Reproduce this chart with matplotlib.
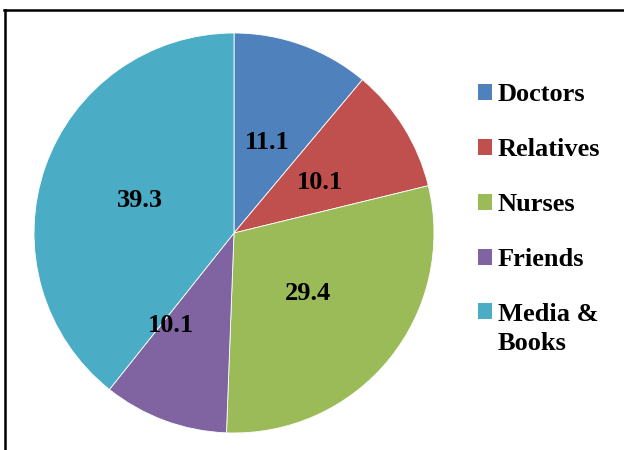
import matplotlib
matplotlib.use("Agg")
import matplotlib.pyplot as plt
from matplotlib.lines import Line2D
from matplotlib.patches import Patch
import numpy as np

# data
labels = ["Doctors", "Relatives", "Nurses", "Friends", "Media &\nBooks"]
values = [11.1, 10.1, 29.4, 10.1, 39.3]
colors = ["#4F81BD", "#C0504D", "#9BBB59", "#8064A2", "#4BACC6"]

plt.rcParams["font.family"] = ["Liberation Serif", "DejaVu Serif"]
plt.rcParams["font.weight"] = "bold"

fig = plt.figure(figsize=(6.24, 4.5), dpi=100)
ax = fig.add_axes([0, 0, 1, 1])

R = 200
wedges, texts = ax.pie(values, colors=colors, startangle=90, counterclock=False,
                       center=(234, 217), radius=R, frame=True,
                       wedgeprops=dict(edgecolor="white", linewidth=0.6))
ax.set_xlim(0, 624)
ax.set_ylim(0, 450)
ax.axis("off")

# label placement: (angle in degrees, radius fraction); Excel "best fit"
label_pos = [None, (30.5, 0.50), None, (-124, 0.56), (161, 0.50)]
for w, v, lp in zip(wedges, values, label_pos):
    if lp is None:
        ang = np.deg2rad((w.theta1 + w.theta2) / 2)
        r = 0.48 * R
    else:
        ang = np.deg2rad(lp[0])
        r = lp[1] * R
    ax.text(234 + r * np.cos(ang), 217 + r * np.sin(ang), f"{v:.1f}",
            ha="center", va="center", fontsize=19, fontweight="bold")

handles = [Patch(facecolor=c, edgecolor="none") for c in colors]
leg = fig.legend(handles, labels, loc="upper left", bbox_to_anchor=(0.766, 0.815),
                 frameon=False, fontsize=19, handlelength=0.55, handleheight=0.55,
                 handletextpad=0.2, labelspacing=1.21, borderaxespad=0, borderpad=0)
for t in leg.get_texts():
    t.set_linespacing(1.34)
# multi-line entry: keep the square beside the first line
last = leg.legend_handles[-1]
last.set_y(last.get_y() + 12.5)

# chart border (top and left visible)
fig.add_artist(Line2D([0.006, 1], [0.978, 0.978], color="black", lw=1.8,
                      transform=fig.transFigure))
fig.add_artist(Line2D([0.008, 0.008], [0, 0.978], color="black", lw=1.8,
                      transform=fig.transFigure))

fig.savefig("out.png", dpi=100)
